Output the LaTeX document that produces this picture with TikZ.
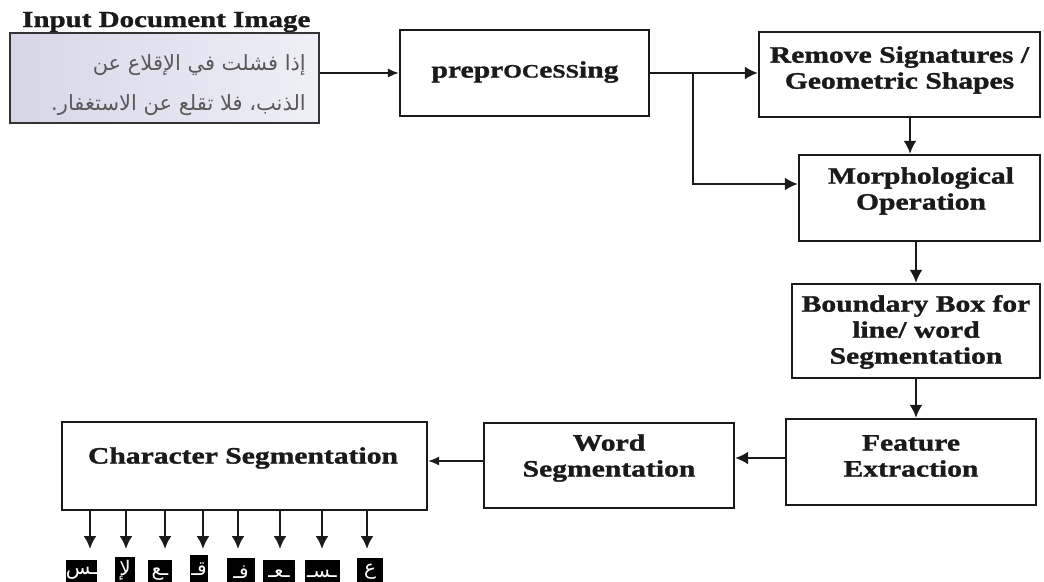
\documentclass[tikz,border=0pt]{standalone}
\usepackage{fontspec}
\setmainfont{Liberation Serif}[FakeStretch=1.26, BoldFeatures={FakeBold=1.3}]
\newfontfamily\arabicfont[Script=Arabic]{DejaVu Sans}
\TeXXeTstate=1
\usetikzlibrary{arrows.meta}
\definecolor{ink}{HTML}{1A1A1A}
\definecolor{paperL}{HTML}{D6D6E8}
\definecolor{paperR}{HTML}{EFEFF7}
\newcommand\redcap[1]{{\fontsize{19}{19}\selectfont #1}}
\tikzset{
  stagebox/.style={draw=ink, line width=2.3pt, fill=white, inner sep=0pt},
  stagetext/.style={font=\bfseries\fontsize{23.5}{26}\selectfont, text=ink, align=center, inner sep=0pt},
  flow/.style={draw=ink, line width=2.3pt, -{Latex[length=13pt,width=13pt]}},
  thinflow/.style={draw=ink, line width=1.4pt, -{Latex[length=11pt,width=9pt]}},
  tile/.style={fill=black, text=white, inner sep=0pt, anchor=north, minimum height=27pt,
               font=\arabicfont\fontsize{20}{20}\selectfont},
}
\begin{document}
\begin{tikzpicture}[x=1pt,y=-1pt]
\useasboundingbox (0,0) rectangle (1044,581);

% input document
\node[font=\bfseries\fontsize{23}{23}\selectfont, text=ink, anchor=base west, inner sep=0pt]
  (title) at (22,27) {Input Document Image};
\node[stagebox, left color=paperL, right color=paperR, draw=black!80, line width=2pt,
      minimum width=309pt, minimum height=90pt] (inp) at (164.5,78) {};
\node[anchor=base east, inner sep=0pt, text=black!65,
      font=\arabicfont\fontsize{21}{21}\selectfont]
  (ar1) at (306,70) {\beginR إذا فشلت في الإقلاع عن\endR};
\node[anchor=base east, inner sep=0pt, text=black!65,
      font=\arabicfont\fontsize{21}{21}\selectfont]
  (ar2) at (306,110) {\beginR الذنب، فلا تقلع عن الاستغفار.\endR};

% processing stages
\node[stagebox, minimum width=249pt, minimum height=86pt] (pre) at (524.5,73) {};
\node[stagetext] (pre-t) at (525,72) {prepr\redcap{OC}e\redcap{SS}ing};

\node[stagebox, minimum width=281pt, minimum height=85pt] (rem) at (899.5,74.5) {};
\node[stagetext] (rem-t) at (899.5,70) {Remove Signatures /\\Geometric Shapes};

\node[stagebox, minimum width=241pt, minimum height=86pt] (mor) at (919.5,198) {};
\node[stagetext] (mor-t) at (921,191) {Morphological\\Operation};

\node[stagebox, minimum width=248pt, minimum height=94pt] (bnd) at (916,331) {};
\node[stagetext] (bnd-t) at (916,332) {Boundary Box for\\line/ word\\Segmentation};

\node[stagebox, minimum width=250pt, minimum height=86pt] (fea) at (911,462) {};
\node[stagetext] (fea-t) at (911,456) {Feature\\Extraction};

\node[stagebox, minimum width=250pt, minimum height=85pt] (wrd) at (609,465.5) {};
\node[stagetext] (wrd-t) at (609,458) {Word\\Segmentation};

\node[stagebox, minimum width=365pt, minimum height=88pt] (chs) at (244.5,466) {};
\node[stagetext] (chs-t) at (243,458) {Character Segmentation};

% connectors
\draw[thinflow] ([yshift=5pt]inp.east) -- ([yshift=5pt]inp.east -| pre.west);
\draw[flow] (pre.east) -- (pre.east -| rem.west);
\coordinate (br) at ([xshift=43pt]pre.east);
\draw[flow] (br) |- ([yshift=14pt]mor.west);
\draw[flow] ([xshift=10.5pt]rem.south) -- ([xshift=10.5pt]rem.south |- mor.north);
\draw[flow] ([xshift=-3.5pt]mor.south) -- ([xshift=-3.5pt]mor.south |- bnd.north);
\draw[flow] (bnd.south) -- (bnd.south |- fea.north);
\draw[flow] ([yshift=4pt]fea.west) -- ([yshift=4pt]fea.west -| wrd.east);
\draw[thinflow] ([yshift=4.5pt]wrd.west) -- ([yshift=4.5pt]wrd.west -| chs.east);

% segmented characters
\node[tile, minimum width=27pt] (t1) at (81.5,560) {ـس};
\node[tile, minimum width=20pt] (t2) at (125,557) {لإ};
\node[tile, minimum width=24pt] (t3) at (160,560) {ـع};
\node[tile, minimum width=18pt] (t4) at (199,555) {قـ};
\node[tile, minimum width=28pt] (t5) at (241,558) {فـ};
\node[tile, minimum width=32pt] (t6) at (279,560) {ـعـ};
\node[tile, minimum width=35pt] (t7) at (322,560) {ـسـ};
\node[tile, minimum width=26pt] (t8) at (370,558) {ع};

\foreach \i/\x in {1/90,2/126,3/165,4/203,5/238,6/280,7/322,8/367}{
  \coordinate (a\i) at (\x,549);
  \draw[flow] (chs.south -| a\i) -- (a\i);
}
\end{tikzpicture}
\end{document}
